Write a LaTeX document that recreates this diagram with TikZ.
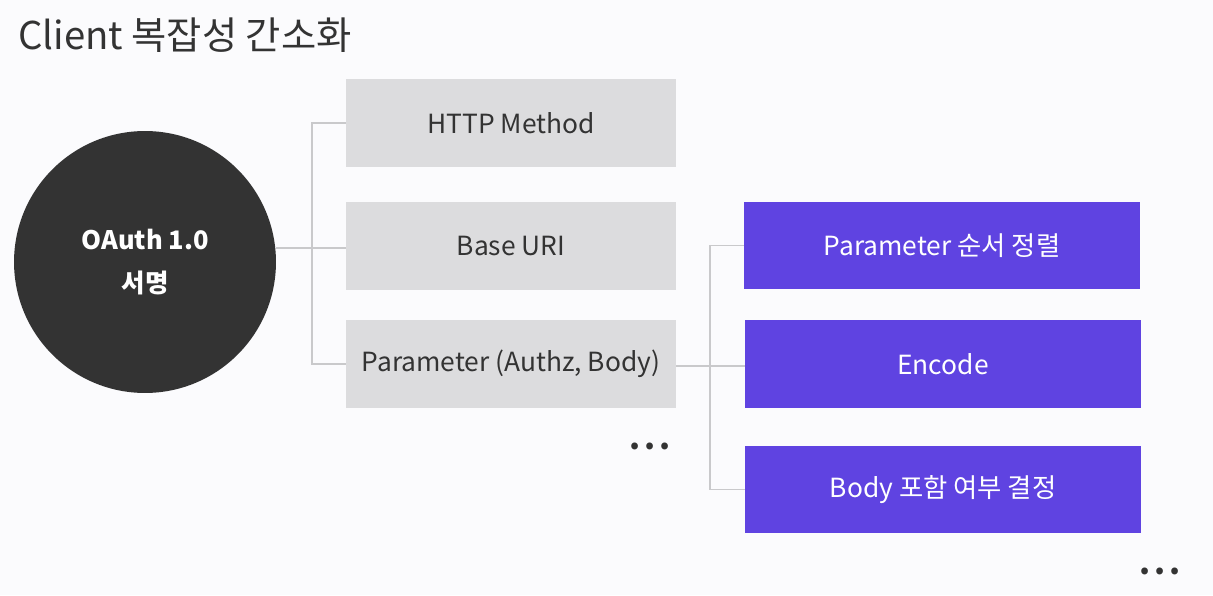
\documentclass[tikz,border=0pt]{standalone}
\usepackage{fontspec}
\setmainfont{Noto Sans CJK KR}
\usetikzlibrary{positioning}
\definecolor{bgcol}{HTML}{FBFBFD}
\definecolor{darkc}{HTML}{333333}
\definecolor{grayb}{HTML}{DCDCDE}
\definecolor{purb}{HTML}{5F43E1}
\definecolor{linec}{HTML}{C9C9CB}

\begin{document}
\begin{tikzpicture}[x=0.02cm,y=-0.02cm,
    gbox/.style={fill=grayb, text=darkc, minimum width=6.6cm, minimum height=1.76cm,
      font=\fontsize{15pt}{18pt}\selectfont},
    pbox/.style={fill=purb, text=white, minimum width=7.92cm, minimum height=1.75cm,
      font=\fontsize{15pt}{18pt}\selectfont},
    dots/.style={text=darkc, font=\bfseries\fontsize{18pt}{20pt}\selectfont},
    conn/.style={draw=linec, line width=0.8pt}]
    \fill[bgcol] (0,0) rectangle (1213,595);
    \useasboundingbox (0,0) rectangle (1213,595);

    \node[anchor=base west, text=darkc, font=\fontsize{21.8pt}{26pt}\selectfont] (title) at (12,50) {Client 복잡성 간소화};

    \node[circle, fill=darkc, minimum size=5.24cm, text=white, align=center,
      font=\bfseries\fontsize{14.5pt}{24pt}\selectfont] (sig) at (145,262) {OAuth 1.0\\서명};

    \node[gbox] (m1) at (511,123) {HTTP Method};
    \node[gbox] (m2) at (511,246) {Base URI};
    \node[gbox] (m3) at (511,364) {Parameter (Authz, Body)};
    \node[dots] (d1) at (650,446) {.\hspace{2.2pt}.\hspace{2.2pt}.};

    \node[pbox] (p1) at (942,245.5) {Parameter 순서 정렬};
    \node[pbox] (p2) at (943,364) {Encode};
    \node[pbox] (p3) at (943,489.5) {Body 포함 여부 결정};
    \node[dots] (d2) at (1160,571) {.\hspace{2.2pt}.\hspace{2.2pt}.};

    \coordinate (j1) at (312,248);
    \coordinate (j2) at (710,366);
    \path[conn] (sig.east |- j1) -- (m2.west |- j1);
    \path[conn] (m1.west) -| (j1) |- (m3.west);
    \path[conn] (m3.east |- j2) -- (p2.west |- j2);
    \path[conn] (p1.west) -| (j2) |- (p3.west);
\end{tikzpicture}
\end{document}
